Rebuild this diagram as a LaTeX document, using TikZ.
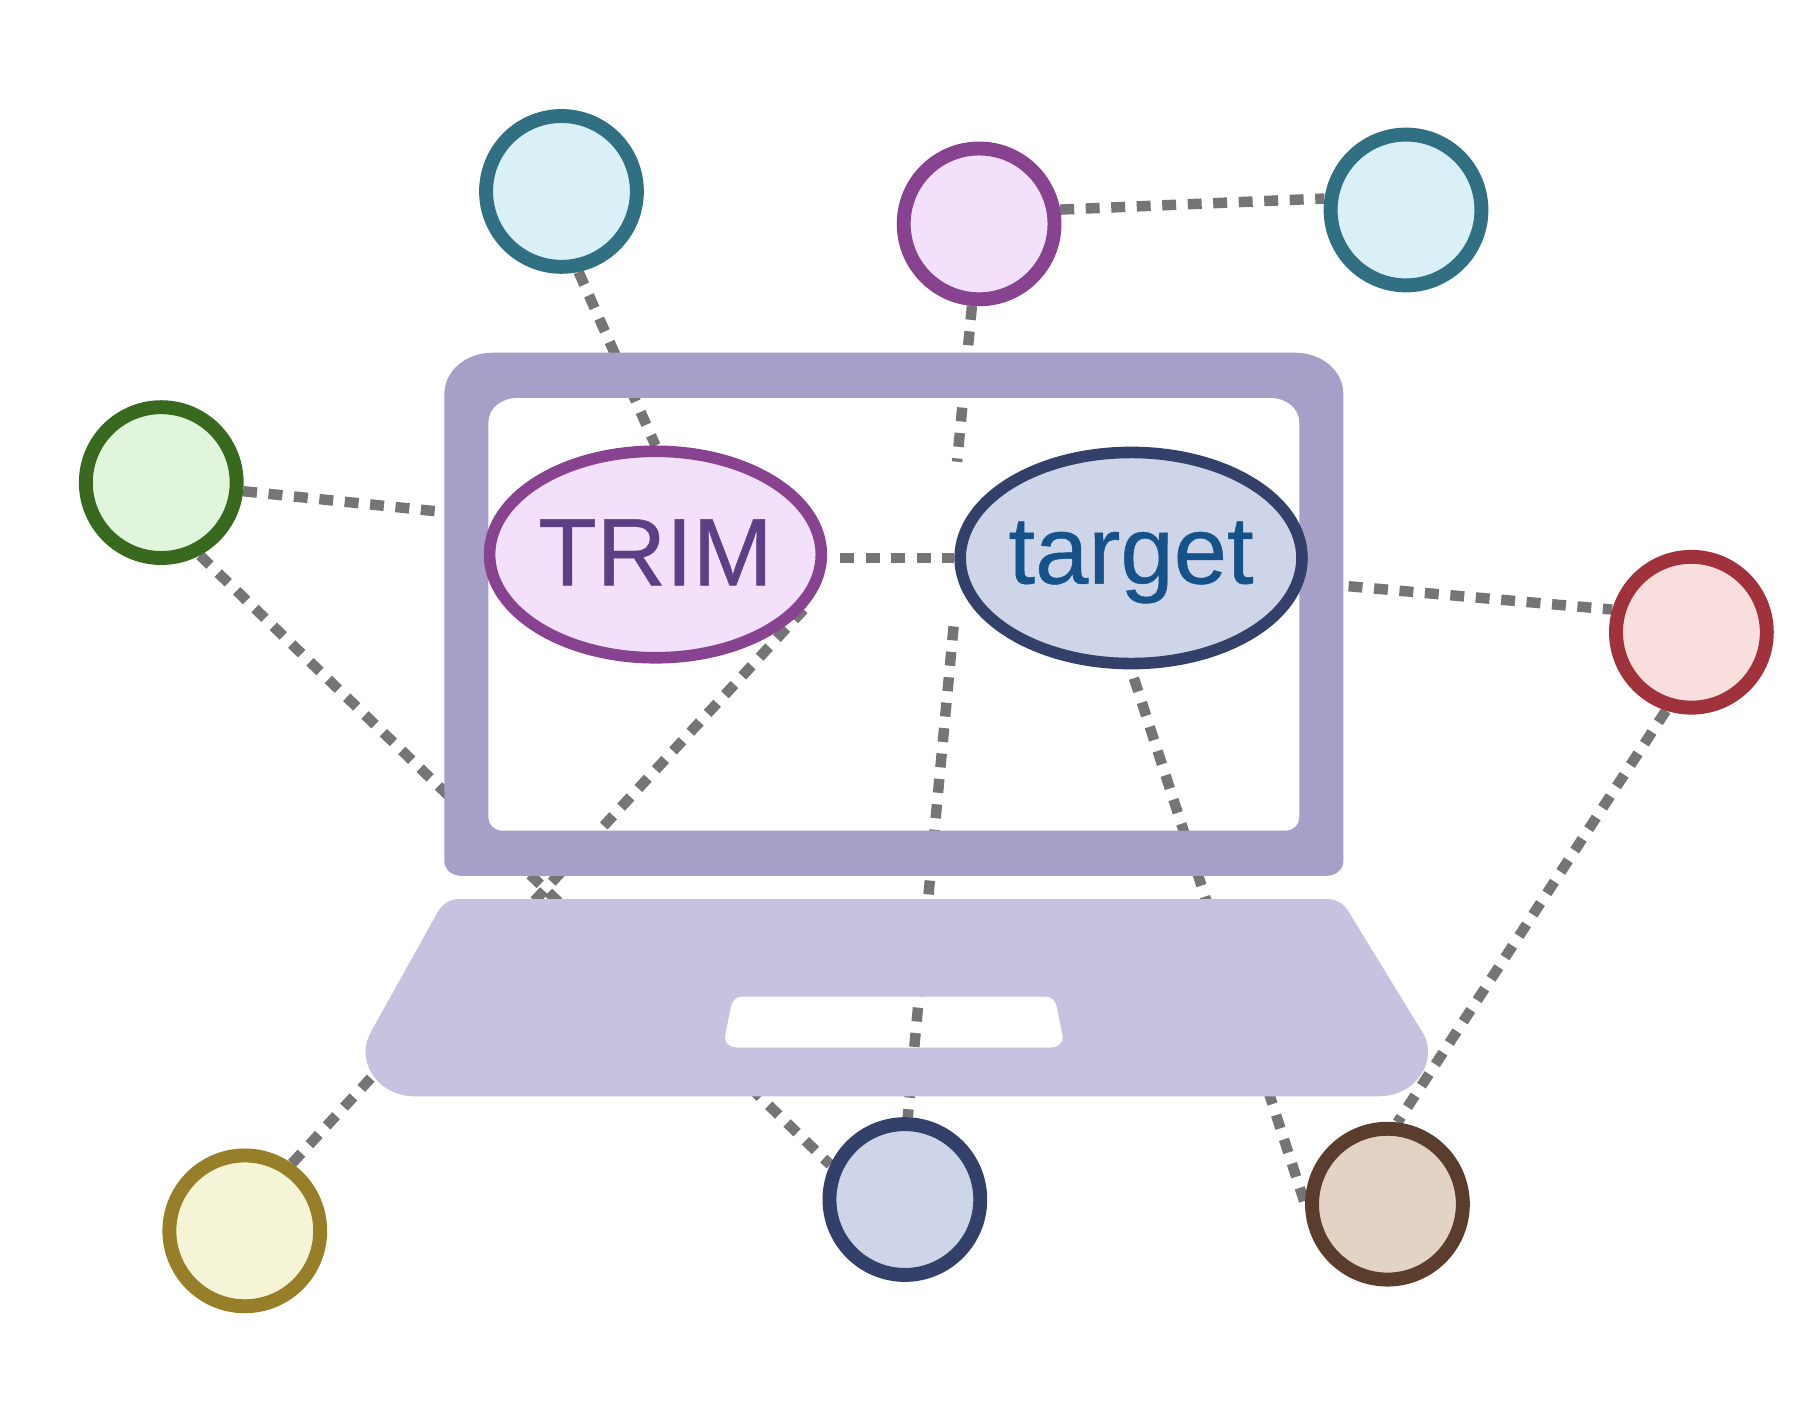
\documentclass[tikz,border=0pt]{standalone}
\usepackage{fontspec}
\setmainfont[FakeBold=0.5]{Liberation Sans}
\usetikzlibrary{positioning,shapes.geometric}
\pgfdeclarelayer{wires}
\pgfdeclarelayer{laptop}
\pgfsetlayers{wires,laptop,main}
\definecolor{wireGray}{HTML}{757575}
\definecolor{frameLilac}{HTML}{A69FC7}
\definecolor{baseLilac}{HTML}{C7C2E0}
\definecolor{tealLine}{HTML}{316F83}
\definecolor{tealFill}{HTML}{D9F0F6}
\definecolor{plumLine}{HTML}{87438F}
\definecolor{plumFill}{HTML}{F3E0FA}
\definecolor{navyLine}{HTML}{32406A}
\definecolor{navyFill}{HTML}{CFD5E8}
\definecolor{leafLine}{HTML}{38691F}
\definecolor{leafFill}{HTML}{E1F5DC}
\definecolor{roseLine}{HTML}{A0323C}
\definecolor{roseFill}{HTML}{F9DEDE}
\definecolor{oliveLine}{HTML}{977F2A}
\definecolor{oliveFill}{HTML}{F5F4D6}
\definecolor{brownLine}{HTML}{5B3D2E}
\definecolor{brownFill}{HTML}{E3D3C5}
\definecolor{trimText}{HTML}{5B4085}
\definecolor{targetText}{HTML}{155289}
\tikzset{
  host/.style={circle,line width=9pt,minimum size=97.5pt,inner sep=0pt},
  blob/.style={ellipse,line width=7.5pt,inner ysep=0pt,inner xsep=-25pt,text depth=0pt,font=\fontsize{62}{68}\selectfont},
  link/.style={wireGray,line width=6.75pt,dash pattern={on 9pt off 7.5pt}}
}
\begin{document}
\begin{tikzpicture}[x=0.75pt,y=0.75pt,yscale=-1,xscale=1]
\useasboundingbox (0,0) rectangle (1568,1211);

% hosts
\node [host,draw=tealLine,fill=tealFill] (tealA) at (484,165) {};
\node [host,draw=plumLine,fill=plumFill] (plumA) at (844,193) {};
\node [host,draw=tealLine,fill=tealFill] (tealB) at (1212,181) {};
\node [host,draw=leafLine,fill=leafFill] (leafA) at (139,416) {};
\node [host,draw=roseLine,fill=roseFill] (roseA) at (1458,545) {};
\node [host,draw=oliveLine,fill=oliveFill] (oliveA) at (211,1061) {};
\node [host,draw=navyLine,fill=navyFill] (navyA) at (780,1034) {};
\node [host,draw=brownLine,fill=brownFill] (brownA) at (1196,1038) {};

% Text Node
\node [blob,draw=plumLine,fill=plumFill,text=trimText,text height=40pt,minimum width=214.5pt,minimum height=133.5pt] (trim) at (565,478) {TRIM};
% Text Node
\node [blob,draw=navyLine,fill=navyFill,text=targetText,text height=33pt,minimum width=221pt,minimum height=136.5pt] (target) at (975,481) {target};

\coordinate (gapA) at (825,398);
\coordinate (gapB) at (822,540);

% dashed links
\begin{pgfonlayer}{wires}
\draw [link] (tealA.-78) -- (trim.north);
\draw [link] (plumA.10) -- (tealB.172);
\draw [link] (plumA.-95) -- (gapA);
\draw [link] (gapB) -- (navyA.88);
\draw [link] (leafA.-6) -- (trim.167);
\draw [link] (leafA.-62) -- (navyA.155);
\draw [link] (oliveA.55) -- (trim.-20);
\draw [link,shorten <=8.5pt] (trim.east |- target.west) -- (target.west);
\draw [link,dash phase=3.75pt] (target.-8) -- (roseA.164);
\draw [link,shorten <=6pt] (target.south) -- (brownA.west);
\draw [link] (roseA.-108) -- (brownA.83);
\end{pgfonlayer}

\begin{pgfonlayer}{laptop}
%Shape: screen
\fill [frameLilac,even odd rule] (425,304) -- (1116,304) .. controls (1140,304) and (1158,320) .. (1158,340) -- (1158,742) .. controls (1158,750) and (1151,755) .. (1143,755) -- (398,755) .. controls (390,755) and (383,750) .. (383,742) -- (383,340) .. controls (383,320) and (401,304) .. (425,304) -- cycle
  (446,343) .. controls (432,343) and (421,352) .. (421,364) -- (421,705) .. controls (421,711) and (426,716) .. (433,716) -- (1108,716) .. controls (1115,716) and (1120,711) .. (1120,705) -- (1120,364) .. controls (1120,352) and (1109,343) .. (1095,343) -- cycle;
%Shape: base
\fill [baseLilac,even odd rule] (396,775) -- (1144,775) .. controls (1152,775) and (1158,779) .. (1162,785) -- (1225,888) .. controls (1229,894) and (1231,900) .. (1231,906) .. controls (1231,928) and (1212,945) .. (1189,945) -- (357,945) .. controls (334,945) and (315,928) .. (315,906) .. controls (315,900) and (317,895) .. (320,889) -- (378,785) .. controls (382,779) and (388,775) .. (396,775) -- cycle
  (640,859) .. controls (634,859) and (631,863) .. (630,868) -- (625,893) .. controls (624,899) and (629,903) .. (635,903) -- (906,903) .. controls (912,903) and (917,899) .. (916,893) -- (911,868) .. controls (910,863) and (907,859) .. (901,859) -- cycle;
\end{pgfonlayer}
\end{tikzpicture}
\end{document}
